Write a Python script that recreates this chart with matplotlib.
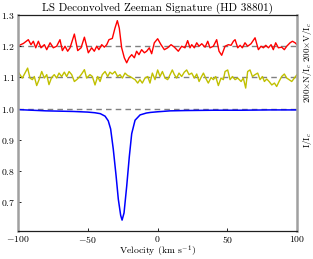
import matplotlib
matplotlib.use("Agg")
import matplotlib.pyplot as plt

plt.rcParams["font.family"] = ["cmr10", "DejaVu Serif"]
plt.rcParams["mathtext.fontset"] = "cm"
plt.rcParams["axes.formatter.use_mathtext"] = True

# Stokes I profile
vel_i = [-100, -90, -80, -70, -60, -50, -45, -41, -37.6, -35.3, -33.6, -31.7,
         -29.7, -28.1, -26.4, -25.4, -24.0, -22.1, -20.2, -18.5, -16.1, -12.5,
         -8, -5, 0, 9, 20, 40, 60, 80, 100]
stokes_i = [0.997, 0.995, 0.993, 0.992, 0.991, 0.989, 0.987, 0.984, 0.976, 0.961,
            0.935, 0.870, 0.785, 0.710, 0.658, 0.643, 0.666, 0.751, 0.847, 0.920,
            0.963, 0.980, 0.986, 0.988, 0.990, 0.993, 0.994, 0.995, 0.995, 0.996,
            0.996]

# Stokes V (shifted, x200)
vel_v = [-100, -96.1, -92.6, -90.7, -89.0, -87.3, -85.4, -83.5, -81.1, -79.4,
         -77.0, -74.7, -72.3, -69.9, -68.2, -66.3, -64.4, -62.7, -59.6, -57.2,
         -54.8, -52.4, -49.6, -47.2, -45.3, -43.6, -42.0, -40.0, -38.1, -36.4,
         -34.8, -32.4, -30.5, -28.8, -27.4, -25.7, -23.8, -22.1, -20.4, -18.5,
         -16.6, -15.0, -13.3, -11.4, -9.4, -7.8, -5.9, -4.2, -2.3, 0.1, 2.5,
         4.9, 7.3, 9.7, 12.1, 14.9, 17.3, 19.7, 21.6, 23.3, 24.5, 26.4, 28.1,
         29.8, 31.7, 34.1, 36.0, 37.6, 40.0, 42.4, 44.1, 46.0, 48.4, 50.8, 52.7,
         54.4, 55.6, 57.5, 59.2, 60.8, 62.7, 64.6, 67.0, 69.9, 72.3, 74.2, 75.9,
         77.6, 79.5, 81.4, 83.0, 84.7, 86.6, 89.0, 90.9, 92.6, 95.0, 96.7, 98.6,
         100]
stokes_v = [1.201, 1.209, 1.221, 1.205, 1.216, 1.195, 1.216, 1.195, 1.205, 1.189,
            1.211, 1.195, 1.200, 1.221, 1.186, 1.200, 1.184, 1.195, 1.239, 1.186,
            1.195, 1.229, 1.179, 1.195, 1.184, 1.200, 1.189, 1.205, 1.197, 1.205,
            1.221, 1.225, 1.258, 1.282, 1.258, 1.195, 1.163, 1.147, 1.163, 1.173,
            1.163, 1.184, 1.173, 1.189, 1.179, 1.184, 1.195, 1.176, 1.211, 1.224,
            1.205, 1.189, 1.195, 1.205, 1.197, 1.184, 1.200, 1.195, 1.218, 1.195,
            1.205, 1.195, 1.211, 1.200, 1.208, 1.197, 1.216, 1.195, 1.200, 1.221,
            1.184, 1.171, 1.200, 1.205, 1.203, 1.216, 1.221, 1.195, 1.203, 1.195,
            1.211, 1.200, 1.208, 1.227, 1.189, 1.200, 1.195, 1.203, 1.195, 1.205,
            1.189, 1.211, 1.195, 1.197, 1.189, 1.200, 1.211, 1.216, 1.211, 1.205]

# null profile N (shifted, x200)
vel_n = [-100, -98.6, -96.9, -95.0, -93.1, -91.4, -89.7, -88.3, -86.6, -84.9,
         -83.0, -81.1, -79.4, -77.8, -75.9, -74.0, -72.3, -70.6, -68.7, -66.8,
         -65.1, -63.4, -61.5, -59.6, -57.9, -56.3, -54.4, -52.4, -50.8, -48.4,
         -46.7, -44.8, -42.9, -41.2, -39.6, -37.6, -35.7, -34.1, -32.4, -30.5,
         -28.6, -26.9, -25.2, -23.3, -21.4, -19.7, -18.0, -16.1, -14.2, -12.6,
         -10.9, -9.0, -7.0, -5.4, -3.7, -1.8, 0.1, 1.8, 3.5, 5.4, 7.3, 9.0,
         10.6, 12.1, 13.7, 15.4, 17.3, 19.2, 20.9, 22.6, 24.5, 26.4, 28.1, 29.8,
         31.2, 32.9, 34.5, 36.4, 38.4, 40.0, 41.7, 43.6, 45.5, 47.2, 48.4, 50.3,
         52.0, 53.7, 55.6, 57.5, 59.9, 61.5, 63.2, 64.6, 66.3, 68.0, 69.9, 71.8,
         73.5, 75.2, 76.6, 78.3, 80.0, 81.9, 83.8, 85.4, 87.1, 89.0, 90.9, 92.6,
         94.3, 96.2, 98.1, 100]
null_n = [1.119, 1.109, 1.098, 1.114, 1.130, 1.098, 1.093, 1.103, 1.074, 1.093,
          1.119, 1.098, 1.109, 1.077, 1.100, 1.109, 1.098, 1.114, 1.103, 1.117,
          1.103, 1.119, 1.109, 1.087, 1.093, 1.100, 1.111, 1.125, 1.098, 1.109,
          1.103, 1.076, 1.103, 1.087, 1.109, 1.119, 1.103, 1.117, 1.111, 1.119,
          1.103, 1.109, 1.098, 1.114, 1.106, 1.103, 1.098, 1.093, 1.082, 1.093,
          1.082, 1.098, 1.103, 1.082, 1.114, 1.093, 1.124, 1.103, 1.119, 1.098,
          1.093, 1.109, 1.124, 1.109, 1.098, 1.114, 1.103, 1.117, 1.124, 1.109,
          1.114, 1.098, 1.111, 1.087, 1.100, 1.114, 1.098, 1.082, 1.100, 1.093,
          1.103, 1.074, 1.098, 1.093, 1.119, 1.124, 1.093, 1.103, 1.093, 1.098,
          1.087, 1.098, 1.066, 1.119, 1.124, 1.103, 1.109, 1.114, 1.093, 1.103,
          1.087, 1.095, 1.087, 1.076, 1.082, 1.071, 1.087, 1.103, 1.111, 1.098,
          1.093, 1.087, 1.098, 1.109]

fig = plt.figure(figsize=(3.13, 2.59), dpi=100)
ax = fig.add_axes([0.0575, 0.108, 0.8915, 0.834])

for lev in [1.0, 1.1, 1.2]:
    ax.axhline(lev, color="#808080", ls="--", lw=1.0, dashes=(4, 3), zorder=1)

ax.plot(vel_v, stokes_v, color="#ff0000", lw=1.0)
ax.plot(vel_n, null_n, color="#c0c000", lw=1.0)
ax.plot(vel_i, stokes_i, color="#0000ff", lw=1.1)

ax.set_xlim(-100, 100)
ax.set_ylim(0.608, 1.3)
ax.set_xticks([-100, -50, 0, 50, 100])
ax.set_yticks([0.7, 0.8, 0.9, 1.0, 1.1, 1.2, 1.3])
ax.tick_params(direction="in", labelsize=7, length=2.5, width=0.6,
               top=False, right=False, pad=2)

for side in ["left", "right"]:
    ax.spines[side].set_color("#a0a0a0")
    ax.spines[side].set_linewidth(1.8)
for side in ["top", "bottom"]:
    ax.spines[side].set_color("#202020")
    ax.spines[side].set_linewidth(0.9)

ax.set_title("LS Deconvolved Zeeman Signature (HD 38801)", fontsize=8, pad=3)
ax.set_xlabel(r"Velocity (km s$^{-1}$)", fontsize=7, labelpad=-1)

tr = ax.get_yaxis_transform()
ax.text(1.015, 1.215, r"200$\times$V/I$_c$", transform=tr, rotation=90,
        fontsize=6.5, ha="left", va="center")
ax.text(1.015, 1.081, r"200$\times$N/I$_c$", transform=tr, rotation=90,
        fontsize=6.5, ha="left", va="center")
ax.text(1.015, 0.90, r"I/I$_c$", transform=tr, rotation=90,
        fontsize=6.5, ha="left", va="center")

fig.savefig("out.png", dpi=100)
